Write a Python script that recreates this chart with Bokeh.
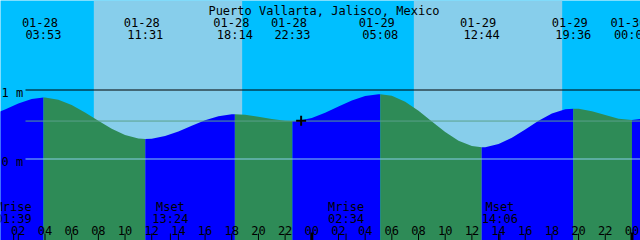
from bokeh.plotting import figure
from bokeh.models import Range1d
from bokeh.core.properties import value
from bokeh.embed import file_html
from bokeh.resources import INLINE

# ---------------- data ----------------
title = "Puerto Vallarta, Jalisco, Mexico"

# tide curve: hours since 01-28 00:00, height in metres
curve_hours = [0, 1, 2, 3, 3.8833, 4, 5, 6, 7, 8, 9, 10, 11, 11.5167,
               12, 13, 14, 15, 16, 17, 18, 18.2333, 19, 20, 21, 22, 22.55,
               23, 24, 25, 26, 27, 28, 29, 29.1333, 30, 31, 32, 33, 34, 35, 36,
               36.7333, 37, 38, 39, 40, 41, 42, 43, 43.6, 44, 45, 46, 47, 48, 49]
curve_heights = [0.635, 0.719, 0.806, 0.870, 0.890, 0.890, 0.859, 0.783, 0.675, 0.553,
                 0.437, 0.347, 0.297, 0.290, 0.295, 0.332, 0.398, 0.481, 0.560, 0.621,
                 0.649, 0.650, 0.642, 0.614, 0.579, 0.554, 0.550, 0.554, 0.595, 0.669,
                 0.760, 0.847, 0.912, 0.940, 0.940, 0.916, 0.831, 0.700, 0.544, 0.391,
                 0.265, 0.187, 0.170, 0.172, 0.216, 0.308, 0.429, 0.554, 0.658, 0.720,
                 0.730, 0.727, 0.692, 0.636, 0.585, 0.565, 0.590]

# high / low tide events
event_hours = [3.8833, 11.5167, 18.2333, 22.55, 29.1333, 36.7333, 43.6, 48]
event_dates = ["01-28", "01-28", "01-28", "01-28", "01-29", "01-29", "01-29", "01-30"]
event_times = ["03:53", "11:31", "18:14", "22:33", "05:08", "12:44", "19:36", "00:00"]

# daylight
sunrise_hours = [7.66, 31.65]
sunset_hours = [18.78, 42.77]

# moon events
moon_hours = [1.65, 13.4, 26.567, 38.1]
moon_names = ["Mrise", "Mset", "Mrise", "Mset"]
moon_times = ["01:39", "13:24", "02:34", "14:06"]

# hour ticks
tick_hours = [2, 4, 6, 8, 10, 12, 14, 16, 18, 20, 22, 24,
              26, 28, 30, 32, 34, 36, 38, 40, 42, 44, 46, 48]
tick_labels = ["02", "04", "06", "08", "10", "12", "14", "16", "18", "20", "22", "00",
               "02", "04", "06", "08", "10", "12", "14", "16", "18", "20", "22", "00"]

# horizontal reference levels (m)
level_values = [1.0, 0.55, 0.0]
level_labels = ["1 m", "", "0 m"]

now_hour = 23.2
now_level = 0.554

# ---------------- styling / layout ----------------
NIGHT = "#00BFFF"
DAY = "#87CEEB"
RISE = "#0000FF"
FALL = "#2E8B57"
LEVEL_COLORS = ["black", "#5AA08A", "#87CEEB"]
FONT = "DejaVu Sans Mono"
FS = "12px"

PXH = 13.34              # pixels per hour
X_START = 4 - 44.5 / PXH
X_END = X_START + 640 / PXH
PXM = 69.0               # pixels per metre
Y_ZERO_PX = 158.5
Y_START = -(240 - Y_ZERO_PX) / PXM
Y_END = Y_ZERO_PX / PXM


def y_at(px):
    return (Y_ZERO_PX - px) / PXM


def x_at(px):
    return X_START + px / PXH


p = figure(width=640, height=240, output_backend="svg", toolbar_location=None,
           x_range=Range1d(X_START, X_END), y_range=Range1d(Y_START, Y_END),
           x_axis_location=None, y_axis_location=None, min_border=0,
           background_fill_color=NIGHT, border_fill_color=NIGHT)
p.xgrid.grid_line_color = None
p.ygrid.grid_line_color = None
p.outline_line_color = None

# daylight bands
p.quad(left=sunrise_hours, right=sunset_hours, bottom=Y_START, top=Y_END,
       fill_color=DAY, line_color=None)

# water, coloured by rising / falling between events
bounds = [curve_hours[0]] + event_hours + [curve_hours[-1]]
for a, b in zip(bounds[:-1], bounds[1:]):
    idx = [i for i, t in enumerate(curve_hours) if a <= t <= b]
    if len(idx) < 2:
        continue
    xs = [curve_hours[i] for i in idx]
    ys = [curve_heights[i] for i in idx]
    color = RISE if ys[-1] > ys[0] else FALL
    p.varea(x=xs, y1=[Y_START - 1] * len(xs), y2=ys, fill_color=color)

# reference lines
for lv, col in zip(level_values, LEVEL_COLORS):
    p.segment(x0=[x_at(25)], x1=[X_END], y0=[lv], y1=[lv], line_color=col, line_width=1)

lab_y = [v for v, t in zip(level_values, level_labels) if t]
lab_t = [t for t in level_labels if t]
p.text(x=[x_at(1)] * len(lab_t), y=lab_y, text=lab_t, text_font=value(FONT),
       text_font_size=FS, text_align="left", text_baseline="alphabetic",
       y_offset=2.5, text_color="black")

# title
p.text(x=[x_at(323.5)], y=[y_at(10)], text=[title], text_font=value(FONT),
       text_font_size=FS, text_align="center", text_baseline="alphabetic", text_color="black")

# tide event labels
p.text(x=event_hours, y=[y_at(22)] * len(event_hours), text=event_dates, x_offset=-3.5,
       text_font=value(FONT), text_font_size=FS, text_align="center",
       text_baseline="alphabetic", text_color="black")
p.text(x=event_hours, y=[y_at(34)] * len(event_hours), text=event_times,
       text_font=value(FONT), text_font_size=FS, text_align="center",
       text_baseline="alphabetic", text_color="black")

# moon labels
p.text(x=moon_hours, y=[y_at(206)] * len(moon_hours), text=moon_names,
       text_font=value(FONT), text_font_size=FS, text_align="center",
       text_baseline="alphabetic", text_color="black")
p.text(x=moon_hours, y=[y_at(218)] * len(moon_hours), text=moon_times,
       text_font=value(FONT), text_font_size=FS, text_align="center",
       text_baseline="alphabetic", text_color="black")

# hour labels and ticks
p.text(x=tick_hours, y=[y_at(230)] * len(tick_hours), text=tick_labels,
       text_font=value(FONT), text_font_size=FS, text_align="center",
       text_baseline="alphabetic", text_color="black")
minor = [h for h in tick_hours if h % 24 != 0]
major = [h for h in tick_hours if h % 24 == 0]
p.segment(x0=minor, x1=minor, y0=[y_at(233)] * len(minor), y1=[y_at(241)] * len(minor),
          line_color="black", line_width=1)
p.segment(x0=major, x1=major, y0=[y_at(232)] * len(major), y1=[y_at(241)] * len(major),
          line_color="black", line_width=3)
p.segment(x0=moon_hours, x1=moon_hours, y0=[y_at(233)] * len(moon_hours),
          y1=[y_at(241)] * len(moon_hours), line_color="black", line_width=1)

# current time marker
p.scatter(x=[now_hour], y=[now_level], marker="cross", size=10, line_width=2,
          line_color="black")

open("out.html", "w").write(file_html(p, INLINE))
